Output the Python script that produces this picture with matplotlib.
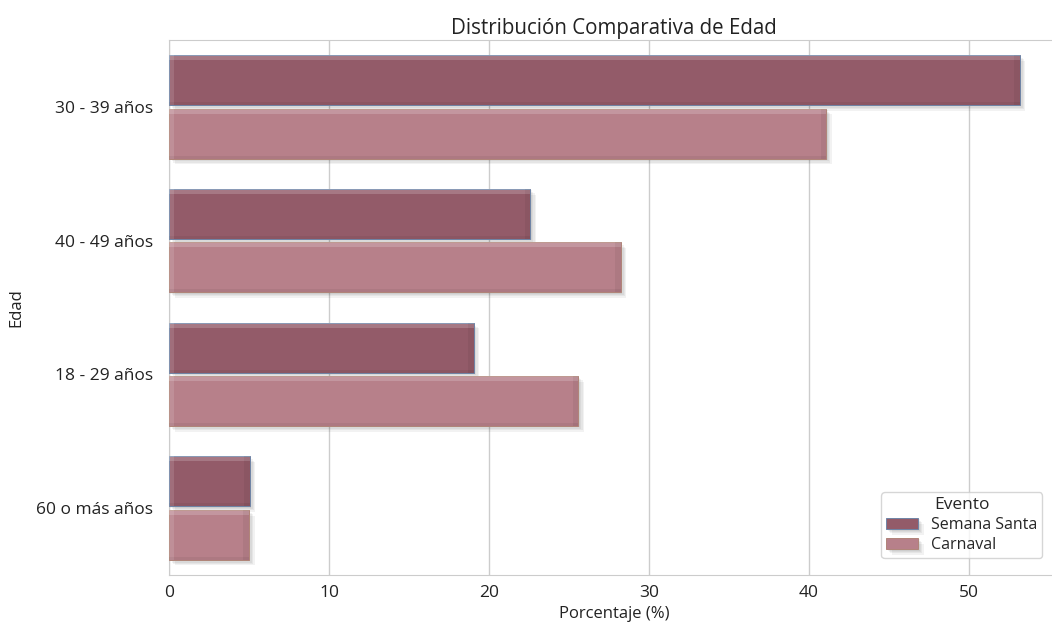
import matplotlib
matplotlib.use("Agg")
import numpy as np
import matplotlib.pyplot as plt
import matplotlib.patheffects as pe
import seaborn as sns

sns.set_style("whitegrid")
plt.rcParams['font.family'] = ['Open Sans', 'DejaVu Sans']

categorias = ['30 - 39 años', '40 - 49 años', '18 - 29 años', '60 o más años']
semana_santa = [53.2, 22.6, 19.05, 5.05]
carnaval = [41.1, 28.25, 25.6, 5.0]
eventos = ['Semana Santa', 'Carnaval']
colores = ['#935b69', '#b7808a']
bordes = ['#6f84a6', '#b08478']

fig = plt.figure(figsize=(10.52, 6.3), dpi=100)
ax = fig.add_axes([169/1052, 1-575/630, 890/1052, 535/630])

y = np.arange(len(categorias))
h = 0.4
# soft shadow: a few stacked offsets with low alpha
shadow = [pe.SimplePatchShadow(offset=(o, -o), shadow_rgbFace='k', alpha=0.05) for o in (1, 2, 3, 4)] + [pe.Normal()]

for i, (vals, col, ed, lab) in enumerate(zip([semana_santa, carnaval], colores, bordes, eventos)):
    pos = y - h/2 + i*h
    bars = ax.barh(pos, vals, height=h*0.93, color=col, edgecolor=ed, linewidth=0.7, label=lab, zorder=3)
    for b in bars:
        b.set_path_effects(shadow)
        x0, y0 = b.get_x(), b.get_y()
        w, hh = b.get_width(), b.get_height()
        # bevel: light top/left, darker right/bottom
        ax.add_patch(plt.Rectangle((x0, y0), w, hh*0.1, color='white', alpha=0.18, lw=0, zorder=4))
        ax.add_patch(plt.Rectangle((x0, y0), 0.3, hh, color='white', alpha=0.12, lw=0, zorder=4))
        ax.add_patch(plt.Rectangle((x0 + w - 0.35, y0), 0.35, hh, color='black', alpha=0.05, lw=0, zorder=4))
        ax.add_patch(plt.Rectangle((x0, y0 + hh*0.94), w, hh*0.06, color='black', alpha=0.05, lw=0, zorder=4))

ax.set_yticks(y)
ax.set_yticklabels(categorias)
ax.set_ylim(3.5, -0.5)
ax.set_xlim(0, 55.65)
ax.set_xticks([0, 10, 20, 30, 40, 50])
ax.tick_params(axis='both', labelsize=12.5, colors='#222222')
ax.tick_params(axis='y', pad=8)
ax.grid(axis='y', visible=False)
ax.grid(axis='x', color='#cccccc', linewidth=1)
for s in ax.spines.values():
    s.set_color('#cccccc')

ax.set_title('Distribución Comparativa de Edad', fontsize=14.8, color='#222222', pad=4)
ax.set_xlabel('Porcentaje (%)', fontsize=12, color='#222222')
ax.set_ylabel('Edad', fontsize=12, color='#222222')
ax.yaxis.set_label_coords(-0.163, 0.5)

leg = ax.legend(title='Evento', loc='lower right', bbox_to_anchor=(1050/1052, 1-566/630),
                bbox_transform=fig.transFigure, fontsize=11.5, title_fontsize=12.5,
                frameon=True, handlelength=2.0, borderpad=0.3, labelspacing=0.25)
leg.get_frame().set_edgecolor('#cccccc')

fig.savefig('out.png', dpi=100)
